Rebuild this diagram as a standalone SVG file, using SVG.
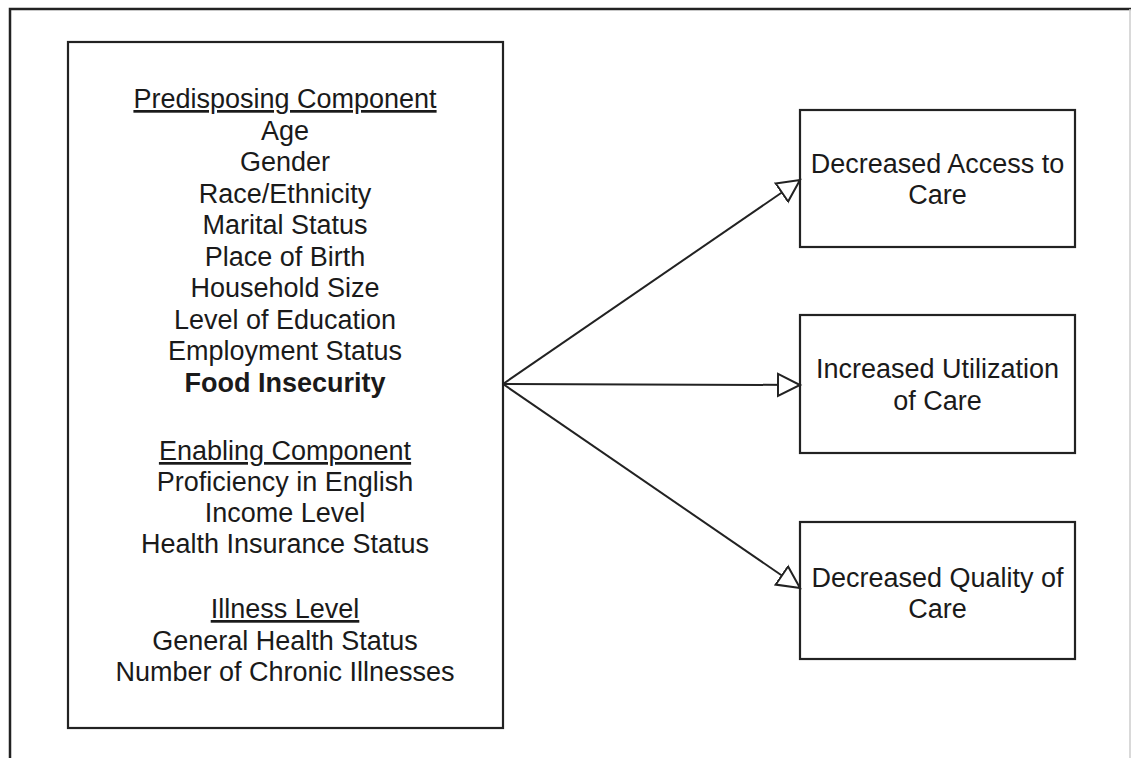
<svg xmlns="http://www.w3.org/2000/svg" width="1131" height="758" viewBox="0 0 1131 758">
<style>
.box{fill:#fff;stroke:#222;stroke-width:2.2}
.t{font-family:"Liberation Sans",Arial,sans-serif;font-size:27px;fill:#1a1a1a;text-anchor:middle}
.u{text-decoration:underline}
.b{font-weight:bold}
.c{stroke:#222;stroke-width:2;fill:none}
</style>
<defs>
<marker id="tri" markerUnits="userSpaceOnUse" markerWidth="26" markerHeight="26" refX="23" refY="12" orient="auto" viewBox="0 0 26 24">
<path d="M1,1 L23,12 L1,23 Z" fill="#fff" stroke="#222" stroke-width="2"/>
</marker>
</defs>
<rect width="1131" height="758" fill="#fff"/>
<g id="frame">
<path d="M10,758 L10,9 L1131,9" fill="none" stroke="#222" stroke-width="2.5"/>
<line x1="1130" y1="9" x2="1130" y2="758" stroke="#ccc" stroke-width="1.5"/>
</g>
<g id="factors">
<rect class="box" x="68" y="42" width="435" height="686"/>
<text class="t u" x="285" y="108">Predisposing Component</text>
<text class="t" x="285" y="139.5">Age</text>
<text class="t" x="285" y="171">Gender</text>
<text class="t" x="285" y="202.5">Race/Ethnicity</text>
<text class="t" x="285" y="234">Marital Status</text>
<text class="t" x="285" y="265.5">Place of Birth</text>
<text class="t" x="285" y="297">Household Size</text>
<text class="t" x="285" y="328.5">Level of Education</text>
<text class="t" x="285" y="360">Employment Status</text>
<text class="t b" x="285" y="392">Food Insecurity</text>
<text class="t u" x="285" y="460">Enabling Component</text>
<text class="t" x="285" y="491">Proficiency in English</text>
<text class="t" x="285" y="522">Income Level</text>
<text class="t" x="285" y="553">Health Insurance Status</text>
<text class="t u" x="285" y="618">Illness Level</text>
<text class="t" x="285" y="649.5">General Health Status</text>
<text class="t" x="285" y="681">Number of Chronic Illnesses</text>
</g>
<g id="access">
<rect class="box" x="800" y="110" width="275" height="137"/>
<text class="t" x="937.5" y="173">Decreased Access to</text>
<text class="t" x="937.5" y="204">Care</text>
</g>
<g id="utilization">
<rect class="box" x="800" y="315" width="275" height="138"/>
<text class="t" x="937.5" y="378">Increased Utilization</text>
<text class="t" x="937.5" y="410">of Care</text>
</g>
<g id="quality">
<rect class="box" x="800" y="522" width="275" height="137"/>
<text class="t" x="937.5" y="587">Decreased Quality of</text>
<text class="t" x="937.5" y="618">Care</text>
</g>
<g id="connectors">
<line class="c" x1="503" y1="384" x2="800" y2="180" marker-end="url(#tri)"/>
<line class="c" x1="503" y1="384" x2="800" y2="385" marker-end="url(#tri)"/>
<line class="c" x1="503" y1="384" x2="800" y2="588" marker-end="url(#tri)"/>
</g>
</svg>
